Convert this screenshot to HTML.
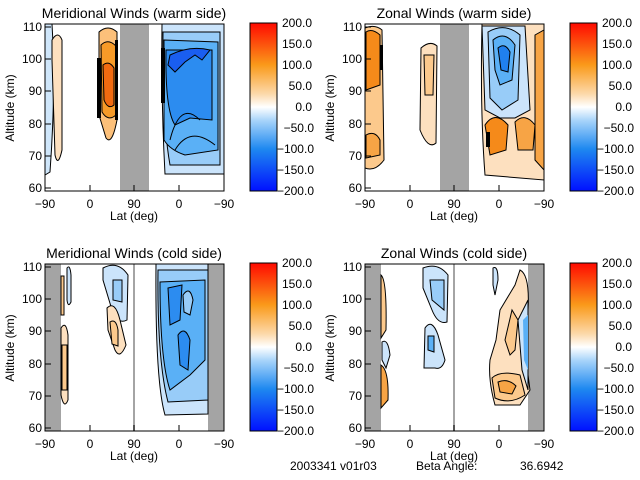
<!DOCTYPE html>
<html><head><style>
body{margin:0;background:#fff;}
svg{display:block;font-family:"Liberation Sans",sans-serif;}
text{font-size:12px;fill:#000;}
.t{font-size:14px;}
.c{stroke:#000;stroke-width:1;}
.n{fill:none;}
</style></head><body>
<svg width="640" height="480" viewBox="0 0 640 480" xmlns="http://www.w3.org/2000/svg">
<defs>
<linearGradient id="cb" x1="0" y1="1" x2="0" y2="0">
<stop offset="0" stop-color="#0010ff"/>
<stop offset="0.25" stop-color="#1e88f0"/>
<stop offset="0.42" stop-color="#a8d4fa"/>
<stop offset="0.5" stop-color="#ffffff"/>
<stop offset="0.58" stop-color="#fcd8a8"/>
<stop offset="0.75" stop-color="#fa9a1a"/>
<stop offset="1" stop-color="#ff0a00"/>
</linearGradient>
<g id="axes">
<rect x="45" y="24" width="179" height="167" fill="none" stroke="#000"/>
<g stroke="#000">
<line x1="45" y1="191" x2="45" y2="185"/><line x1="90" y1="191" x2="90" y2="185"/><line x1="134" y1="191" x2="134" y2="185"/><line x1="179" y1="191" x2="179" y2="185"/><line x1="224" y1="191" x2="224" y2="185"/>
<line x1="45" y1="27" x2="51" y2="27"/><line x1="45" y1="59" x2="51" y2="59"/><line x1="45" y1="91" x2="51" y2="91"/><line x1="45" y1="124" x2="51" y2="124"/><line x1="45" y1="156" x2="51" y2="156"/><line x1="45" y1="188" x2="51" y2="188"/>
</g>
<g text-anchor="end"><text x="42" y="31">110</text><text x="42" y="63">100</text><text x="42" y="95">90</text><text x="42" y="128">80</text><text x="42" y="160">70</text><text x="42" y="192">60</text></g>
<g text-anchor="middle"><text x="45" y="208">−90</text><text x="90" y="208">0</text><text x="134" y="208">90</text><text x="179" y="208">0</text><text x="224" y="208">−90</text><text x="134" y="220">Lat (deg)</text></g>
<text x="14" y="108" text-anchor="middle" transform="rotate(-90 14 108)">Altitude (km)</text>
<rect x="250" y="23" width="27" height="168" fill="url(#cb)" stroke="#000"/>
<g text-anchor="end"><text x="312" y="27">200.0</text><text x="312" y="48">150.0</text><text x="312" y="69">100.0</text><text x="312" y="90">50.0</text><text x="312" y="111">0.0</text><text x="314" y="132">−50.0</text><text x="314" y="153">−100.0</text><text x="314" y="174">−150.0</text><text x="314" y="195">−200.0</text></g>
</g>
</defs>

<!-- Panel 1 -->
<g>
<rect x="120" y="24" width="29" height="167" fill="#a4a4a4"/>
<path d="M45 24 L52 24 Q56 90 50 172 L45 175Z" fill="#cfe6fa" class="c"/>
<path d="M52 40 Q58 30 62 40 L62 150 Q58 168 55 155 L52 60Z" fill="#fde0bf" class="c"/>
<path d="M99 32 Q108 24 117 32 L117 120 Q112 146 106 138 L99 115Z" fill="#fcc07a" class="c"/>
<path d="M101 45 Q108 38 116 46 L116 115 Q108 122 102 112Z" fill="#f69a28" class="c"/>
<path d="M103 65 Q109 60 114 68 L114 105 Q108 110 104 100Z" fill="#f06a10" class="c"/>
<rect x="97" y="58" width="4" height="60" fill="#000"/>
<rect x="115" y="40" width="3" height="80" fill="#000"/>
<path d="M162 24 L224 24 L224 174 L165 174 Q161 100 162 24Z" fill="#cbe4fb" class="c"/>
<path d="M163 32 L220 32 L220 165 L170 165 Q162 120 163 32Z" fill="#98ccf8" class="c"/>
<path d="M164 40 L218 42 L218 150 L185 155 Q170 150 164 140Z" fill="#5ab0f6" class="c"/>
<path d="M166 50 L212 50 L212 120 L190 118 L175 125 Q165 110 166 50Z" fill="#2c8cf0" class="c"/>
<path d="M170 55 Q190 45 210 50 L202 60 L195 55 L185 62 L175 72 L168 65Z" fill="#1a5ef0" class="c"/>
<rect x="161" y="48" width="4" height="55" fill="#000"/>
<path class="c n" d="M170 140 Q180 100 200 120 M175 150 Q190 125 215 145"/>
<use href="#axes"/>
<text class="t" x="134" y="18" text-anchor="middle">Meridional Winds (warm side)</text>
</g>

<!-- Panel 2 -->
<g transform="translate(320,0)">
<rect x="120" y="24" width="29" height="167" fill="#a4a4a4"/>
<path d="M45 28 Q55 24 62 30 L64 160 Q55 172 45 168Z" fill="#fcc98c" class="c"/>
<path d="M46 32 Q52 28 60 35 L60 85 L46 90Z" fill="#f58a1a" class="c"/>
<path d="M46 135 Q55 130 60 140 L60 155 L46 158Z" fill="#f7a445" class="c"/>
<rect x="60" y="45" width="3" height="25" fill="#000"/>
<path d="M101 48 Q110 40 117 46 L116 143 Q108 150 100 130Z" fill="#fde0bf" class="c"/>
<path d="M104 55 L114 55 L113 95 L105 95Z" fill="#fcc98c" class="c"/>
<path d="M162 24 L224 24 L224 180 L165 175 Q160 110 162 24Z" fill="#fde0bf" class="c"/>
<path d="M162 26 L205 26 L210 110 L195 118 L180 118 L165 110Z" fill="#cbe4fb" class="c"/>
<path d="M168 32 Q185 22 200 35 L198 100 L182 110 L170 98Z" fill="#98ccf8" class="c"/>
<path d="M173 40 Q185 30 195 45 L192 80 L180 85 L175 70Z" fill="#5ab0f6" class="c"/>
<path d="M178 48 Q185 42 190 52 L188 72 L181 70Z" fill="#2080ee" class="c"/>
<path d="M165 125 Q175 110 188 125 L186 150 L170 155Z" fill="#f58a1a" class="c"/>
<path d="M195 122 Q205 112 215 125 L213 150 L198 150Z" fill="#f7a445" class="c"/>
<path d="M215 35 L224 30 L224 170 L215 160Z" fill="#f7a445" class="c"/>
<rect x="166" y="132" width="4" height="15" fill="#000"/>
<use href="#axes"/>
<text class="t" x="134" y="18" text-anchor="middle">Zonal Winds (warm side)</text>
</g>

<!-- Panel 3 -->
<g transform="translate(0,240)">
<rect x="45" y="24" width="16" height="167" fill="#a4a4a4"/>
<rect x="208" y="24" width="16" height="167" fill="#a4a4a4"/>
<rect x="133" y="24" width="2" height="167" fill="#a4a4a4"/>
<path d="M61 36 L64 36 L64 75 L61 75Z" fill="#fcc98c" class="c"/>
<path d="M67 28 Q70 24 71 35 L71 62 Q68 68 67 60Z" fill="#cbe4fb" class="c"/>
<path d="M61 88 Q66 80 68 95 L68 160 Q64 170 61 155Z" fill="#fde0bf" class="c"/>
<path d="M62 105 L67 105 L67 150 L62 150Z" fill="#fcc98c" class="c"/>
<path d="M103 28 Q118 20 128 35 L127 80 Q118 85 112 70 L103 40Z" fill="#cbe4fb" class="c"/>
<path d="M113 40 L122 40 L122 62 L113 60Z" fill="#98ccf8" class="c"/>
<path d="M107 68 Q115 60 120 80 L126 105 Q120 120 115 110 L108 90Z" fill="#fde0bf" class="c"/>
<path d="M110 82 Q116 78 118 90 L118 106 L112 104Z" fill="#fcc98c" class="c"/>
<path d="M156 24 L208 24 L208 174 L165 175 Q155 140 156 24Z" fill="#cbe4fb" class="c"/>
<path d="M158 30 L208 30 L208 160 L168 162 Q157 120 158 30Z" fill="#98ccf8" class="c"/>
<path d="M160 42 L205 40 L205 120 L190 135 L170 150 Q160 120 160 42Z" fill="#5ab0f6" class="c"/>
<path d="M168 48 L182 45 L180 80 L170 85Z" fill="#2c8cf0" class="c"/>
<path d="M178 95 Q185 85 190 100 L188 130 L180 125Z" fill="#2c8cf0" class="c"/>
<path d="M183 55 Q190 45 193 60 L190 75 L184 72Z" fill="#98ccf8" class="c"/>
<use href="#axes"/>
<text class="t" x="134" y="18" text-anchor="middle">Meridional Winds (cold side)</text>
</g>

<!-- Panel 4 -->
<g transform="translate(320,240)">
<rect x="45" y="24" width="16" height="167" fill="#a4a4a4"/>
<rect x="208" y="24" width="16" height="167" fill="#a4a4a4"/>
<rect x="133" y="24" width="2" height="167" fill="#a4a4a4"/>
<path d="M61 35 Q67 40 66 90 L61 98Z" fill="#fcc98c" class="c"/>
<path d="M61 125 Q69 130 68 160 L61 168Z" fill="#f7a445" class="c"/>
<path d="M62 102 Q68 98 70 115 L66 128 L62 120Z" fill="#cbe4fb" class="c"/>
<path d="M103 28 Q118 22 128 35 L127 82 Q118 85 112 70 L103 48Z" fill="#cbe4fb" class="c"/>
<path d="M110 40 L124 40 L124 70 L112 60Z" fill="#98ccf8" class="c"/>
<path d="M105 88 Q112 78 118 95 L125 120 Q122 130 115 128 L104 128Z" fill="#cbe4fb" class="c"/>
<path d="M108 96 L114 96 L114 112 L108 110Z" fill="#5ab0f6" class="c"/>
<path d="M175 165 Q168 140 170 120 L176 100 L180 70 L195 45 L200 30 Q210 35 208 70 L206 120 L210 150 L200 165Z" fill="#fde0bf" class="c"/>
<path d="M185 100 L192 70 L198 80 L195 110 L190 115Z" fill="#fcc98c" class="c"/>
<path d="M172 138 Q180 130 200 135 L205 155 Q190 165 175 158Z" fill="#fcc98c" class="c"/>
<path d="M178 142 Q188 138 196 146 L192 154 L180 152Z" fill="#f7a445" class="c"/>
<path d="M198 80 L208 60 L208 150 L202 130Z" fill="#cbe4fb" class="c"/>
<path d="M203 80 L208 75 L208 130 L204 120Z" fill="#5ab0f6"/>
<path d="M173 28 Q178 25 178 40 L175 55 L173 45Z" fill="#cbe4fb" class="c"/>
<use href="#axes"/>
<text class="t" x="134" y="18" text-anchor="middle">Zonal Winds (cold side)</text>
</g>

<text x="290" y="470">2003341 v01r03</text>
<text x="416" y="470">Beta Angle:</text>
<text x="520" y="470">36.6942</text>
</svg>
</body></html>
